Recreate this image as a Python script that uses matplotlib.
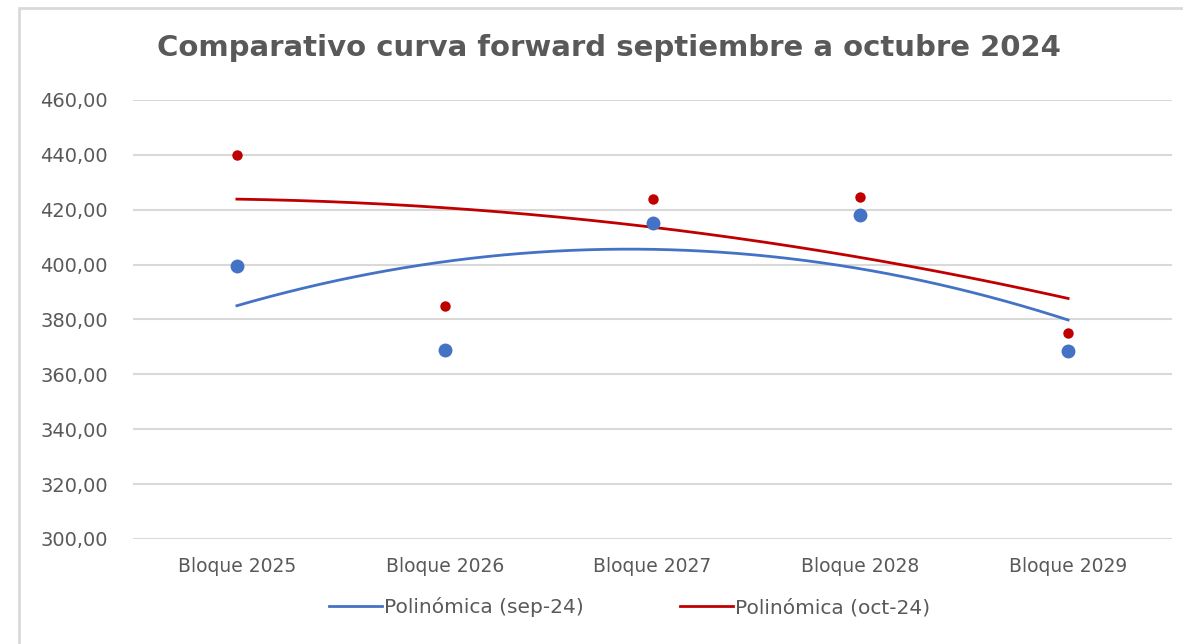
import numpy as np
import matplotlib.pyplot as plt
from matplotlib.patches import Rectangle

# datos
categorias = ["Bloque 2025", "Bloque 2026", "Bloque 2027", "Bloque 2028", "Bloque 2029"]
sep24 = [399.5, 369.0, 415.0, 418.0, 368.5]
oct24 = [440.0, 385.0, 424.0, 424.5, 375.0]

azul = "#4472C4"
rojo = "#C00000"
gris = "#595959"

plt.rcParams["font.family"] = ["DejaVu Sans"]

fig = plt.figure(figsize=(11.83, 6.44), dpi=100)
ax = fig.add_axes([133/1183, 1-539/644, (1172-133)/1183, (539-100)/644])

x = np.arange(1, len(categorias)+1)
xx = np.linspace(1, 5, 200)

# tendencia polinomica de orden 2 (como excel)
p_sep = np.polyfit(x, sep24, 2)
p_oct = np.polyfit(x, oct24, 2)
ax.plot(xx, np.polyval(p_sep, xx), color=azul, lw=2, label="Polinómica (sep-24)", zorder=3)
ax.plot(xx, np.polyval(p_oct, xx), color=rojo, lw=2, label="Polinómica (oct-24)", zorder=3)

ax.plot(x, sep24, "o", color=azul, ms=10, mec="none", zorder=4)
ax.plot(x, oct24, "o", color=rojo, ms=7.5, mec="none", zorder=5)

ax.set_xlim(0.5, 5.5)
ax.set_ylim(300, 460)
ax.set_yticks(np.arange(300, 461, 20))
ax.set_yticklabels([("%.2f" % v).replace(".", ",") for v in np.arange(300, 461, 20)])
ax.set_xticks(x)
ax.set_xticklabels(categorias)
ax.tick_params(length=0, labelsize=13.5, colors=gris, pad=13)
ax.tick_params(axis="y", pad=18, labelsize=14)
ax.grid(axis="y", color="#D9D9D9", lw=1.5)
ax.set_axisbelow(True)
for s in ax.spines.values():
    s.set_visible(False)

fig.text(0.515, 1-48/644, "Comparativo curva forward septiembre a octubre 2024",
         ha="center", va="center", fontsize=21, fontweight="bold", color=gris)

leg = ax.legend(loc="center", bbox_to_anchor=(0.478, -0.155), ncol=2, frameon=False,
                fontsize=14.5, handlelength=2.6, handletextpad=0.1, columnspacing=4.8)
for t in leg.get_texts():
    t.set_color(gris)

# borde del area del grafico
fig.patches.append(Rectangle((19/1183, -0.1), 1.2, 1-8/644+0.1, transform=fig.transFigure,
                             fill=False, ec="#D9D9D9", lw=2))

fig.savefig("out.png", dpi=100)
